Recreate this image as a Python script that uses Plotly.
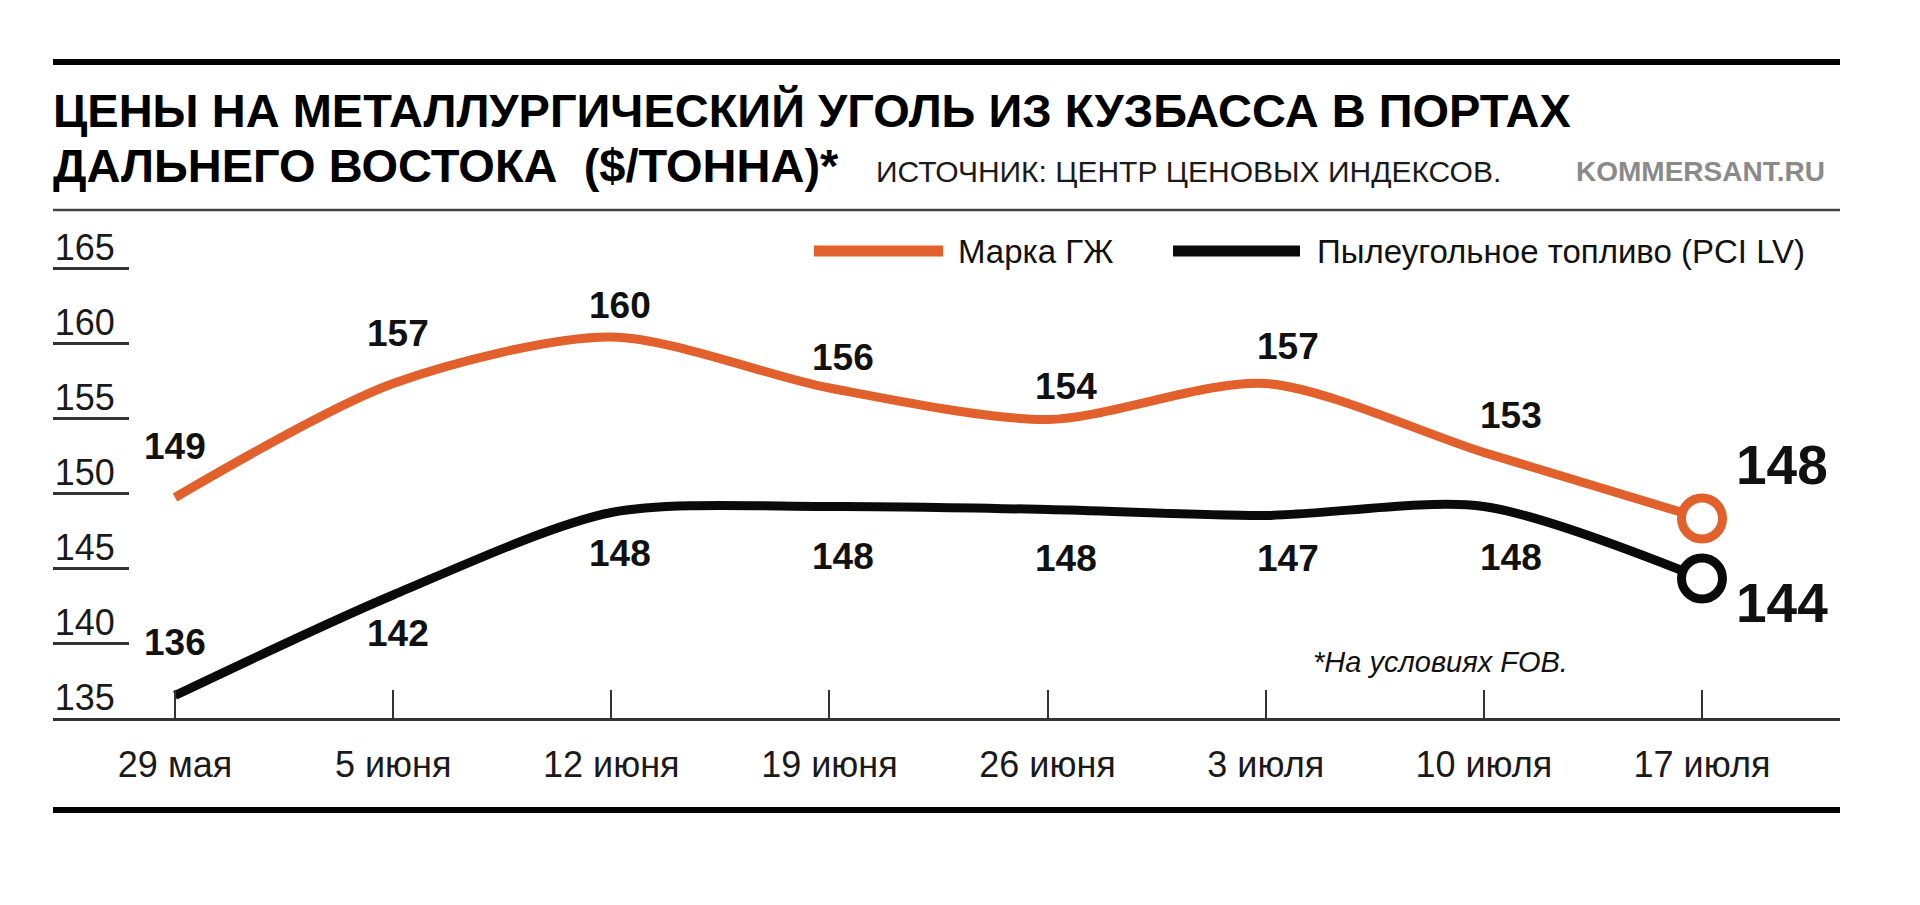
import plotly.graph_objects as go

# ---------------- data ----------------
dates = ["29 мая", "5 июня", "12 июня", "19 июня", "26 июня", "3 июля", "10 июля", "17 июля"]
gzh_values = [149.7, 157.3, 160.4, 157.0, 154.9, 157.3, 152.7, 148.3]      # drawn line, Марка ГЖ
pci_values = [136.5, 143.2, 148.7, 149.1, 148.9, 148.5, 149.1, 144.3]      # drawn line, PCI LV
gzh_labels = ["149", "157", "160", "156", "154", "157", "153", "148"]
pci_labels = ["136", "142", "148", "148", "148", "147", "148", "144"]
y_ticks = [135, 140, 145, 150, 155, 160, 165]

series_names = ["Марка ГЖ", "Пылеугольное топливо (PCI LV)"]
title_line1 = "ЦЕНЫ НА МЕТАЛЛУРГИЧЕСКИЙ УГОЛЬ ИЗ КУЗБАССА В ПОРТАХ"
title_line2 = "ДАЛЬНЕГО ВОСТОКА&nbsp;&nbsp;($/ТОННА)*"
source_text = "ИСТОЧНИК: ЦЕНТР ЦЕНОВЫХ ИНДЕКСОВ."
brand_text = "KOMMERSANT.RU"
footnote = "*На условиях FOB."

# ---------------- styles / layout geometry (page pixels) ----------------
BODY = 8                      # default page margin around the figure
W, H = 1920 - 2 * BODY, 905 - 2 * BODY
PL, PR, PT, PB = 53, 1840, 200, 718   # plot area in page pixels
ORANGE = "#e2602b"
BLACK = "#0a0a0a"
DARK = "#333333"
SANS = "Liberation Sans, Arial, sans-serif"

gzh_dy = [51, 50, 32, 31, 33, 37, 37]
pci_dy = [53, -38, -41, -50, -49, -43, -51]


def xp(px):
    return (px - PL) / (PR - PL)


def yp(py):
    return (PB - py) / (PB - PT)


step = (1702 - 175) / 7
x_range = [(PL - 175) / step, 7 + (PR - 1702) / step]
y_range = [135, 135 + (PB - PT) / 15.0]

fig = go.Figure()

fig.add_trace(go.Scatter(
    x=dates, y=gzh_values, mode="lines", name=series_names[0],
    line=dict(color=ORANGE, width=9, shape="spline", smoothing=0.8),
    hoverinfo="skip", showlegend=False))
fig.add_trace(go.Scatter(
    x=dates, y=pci_values, mode="lines", name=series_names[1],
    line=dict(color=BLACK, width=9, shape="spline", smoothing=0.8),
    hoverinfo="skip", showlegend=False))
fig.add_trace(go.Scatter(
    x=[dates[-1]], y=[gzh_values[-1]], mode="markers",
    marker=dict(symbol="circle", size=41, color="white", line=dict(color=ORANGE, width=9)),
    hoverinfo="skip", showlegend=False))
fig.add_trace(go.Scatter(
    x=[dates[-1]], y=[pci_values[-1]], mode="markers",
    marker=dict(symbol="circle", size=41, color="white", line=dict(color=BLACK, width=9)),
    hoverinfo="skip", showlegend=False))

annotations = []
label_font = dict(family=SANS, size=37, color="#111111", weight="bold")
for i in range(len(dates) - 1):
    annotations.append(dict(
        x=dates[i], y=gzh_values[i], xref="x", yref="y", text=gzh_labels[i],
        showarrow=False, xanchor="center", yanchor="middle",
        xshift=4.5 * i, yshift=gzh_dy[i], font=label_font))
    annotations.append(dict(
        x=dates[i], y=pci_values[i], xref="x", yref="y", text=pci_labels[i],
        showarrow=False, xanchor="center", yanchor="middle",
        xshift=4.5 * i, yshift=pci_dy[i], font=label_font))
big_font = dict(family=SANS, size=55, color="#111111", weight="bold")
annotations.append(dict(
    x=dates[-1], y=gzh_values[-1], xref="x", yref="y", text=gzh_labels[-1],
    showarrow=False, xanchor="left", yanchor="middle", xshift=32, yshift=54, font=big_font))
annotations.append(dict(
    x=dates[-1], y=pci_values[-1], xref="x", yref="y", text=pci_labels[-1],
    showarrow=False, xanchor="left", yanchor="middle", xshift=32, yshift=-24, font=big_font))


def text_at(text, x, baseline, size, color="#000000", anchor="left", weight="normal", style="normal"):
    return dict(
        x=xp(x), y=yp(baseline - 0.3465 * size), xref="paper", yref="paper",
        text=text, showarrow=False, xanchor=anchor, yanchor="middle",
        font=dict(family=SANS, size=size, color=color, weight=weight, style=style))


annotations.append(text_at(title_line1, 51, 127, 47, weight="bold"))
annotations.append(text_at(title_line2, 51, 182, 47, weight="bold"))
annotations.append(text_at(source_text, 874, 182, 30, color="#1a1a1a"))
annotations.append(text_at(brand_text, 1827, 181, 28, color="#8a8a8a", anchor="right", weight="bold"))
annotations.append(text_at(series_names[0], 956, 263, 33, color="#111111"))
annotations.append(text_at(series_names[1], 1315, 263, 33, color="#111111"))
annotations.append(text_at(footnote, 1311, 672, 29, color="#111111", style="italic"))

shapes = [
    dict(type="line", xref="paper", yref="paper", x0=xp(53), x1=xp(1840), y0=yp(62), y1=yp(62),
         line=dict(color="#000000", width=6)),
    dict(type="line", xref="paper", yref="paper", x0=xp(53), x1=xp(1840), y0=yp(210), y1=yp(210),
         line=dict(color="#444444", width=2.5)),
    dict(type="line", xref="paper", yref="paper", x0=xp(53), x1=xp(1840), y0=yp(810), y1=yp(810),
         line=dict(color="#000000", width=6)),
    dict(type="line", xref="paper", yref="paper", x0=xp(814), x1=xp(943), y0=yp(251), y1=yp(251),
         line=dict(color=ORANGE, width=11)),
    dict(type="line", xref="paper", yref="paper", x0=xp(1173), x1=xp(1300), y0=yp(251), y1=yp(251),
         line=dict(color=BLACK, width=11)),
]

fig.update_layout(
    width=W, height=H,
    margin=dict(l=PL - BODY, r=(1920 - BODY) - PR, t=PT - BODY, b=(905 - BODY) - PB, pad=0),
    paper_bgcolor="white", plot_bgcolor="white",
    showlegend=False,
    annotations=annotations, shapes=shapes,
    xaxis=dict(
        type="category", categoryorder="array", categoryarray=dates,
        range=x_range, showgrid=False, zeroline=False,
        showline=True, linecolor=DARK, linewidth=2.5,
        ticks="inside", ticklen=28, tickwidth=1.6, tickcolor=DARK,
        tickfont=dict(family=SANS, size=36, color="#1a1a1a"),
        ticklabelstandoff=13),
    yaxis=dict(
        range=y_range, showgrid=False, zeroline=False, showline=False,
        tickmode="array", tickvals=y_ticks, ticktext=[str(v) for v in y_ticks],
        ticks="inside", ticklen=76, tickwidth=2.5, tickcolor=DARK,
        ticklabelposition="inside", ticklabelstandoff=-70, ticklabelshift=-21,
        tickfont=dict(family=SANS, size=36, color="#1a1a1a")),
)

fig.write_html("out.html", config={"displayModeBar": False})
